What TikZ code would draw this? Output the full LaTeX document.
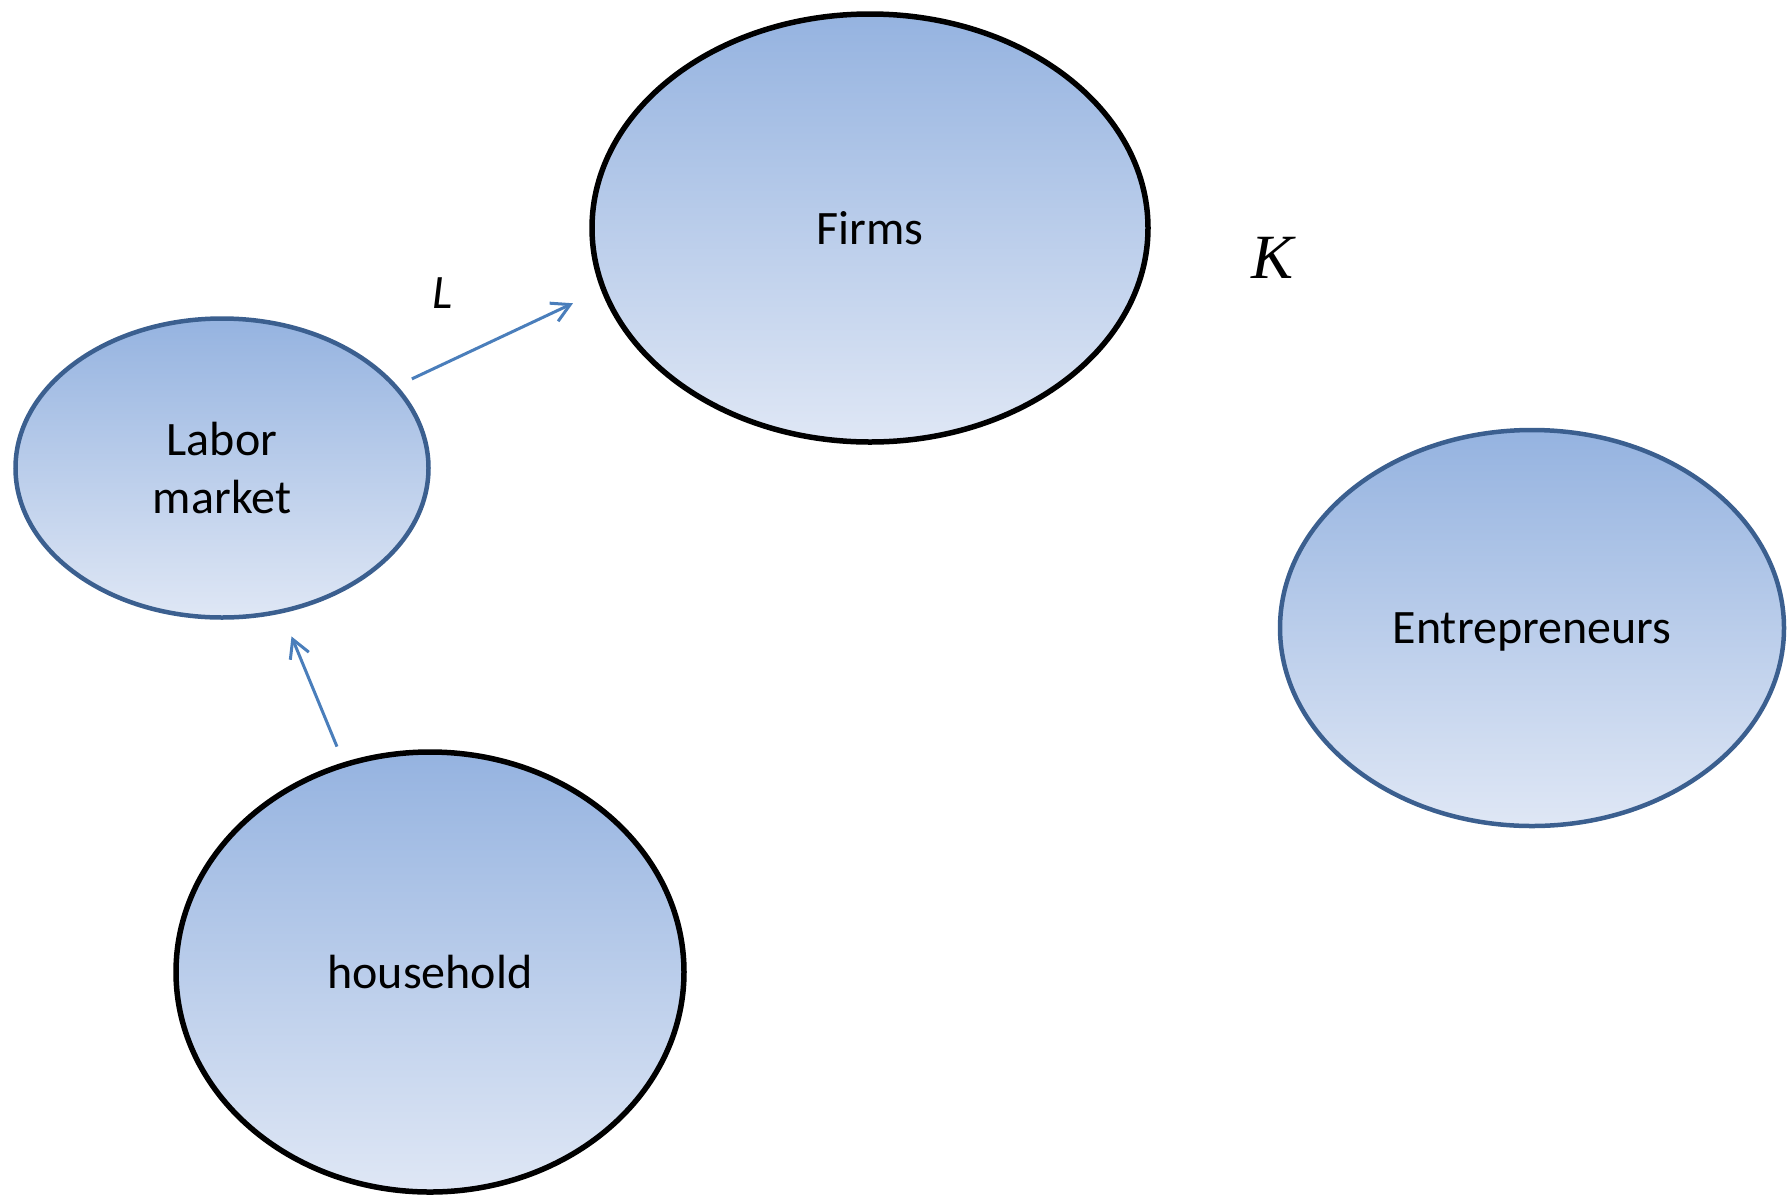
\documentclass[tikz,border=0pt]{standalone}
\usepackage{fontspec}
\setmainfont{Carlito}
\newfontfamily\serifK{Liberation Serif}
\usepackage{tikz}
\usetikzlibrary{shapes.geometric, arrows.meta}

\definecolor{topblue}{HTML}{95B3E0}
\definecolor{botblue}{HTML}{DFE7F5}
\definecolor{rimblue}{HTML}{3B5F8F}
\definecolor{arrowblue}{HTML}{4A7EBB}

\begin{document}
\begin{tikzpicture}[x=1pt, y=-1pt,
			agent/.style={ellipse, draw=black, line width=5.5pt, top color=topblue, bottom color=botblue, inner sep=0pt, text depth=0pt, align=center, font=\fontsize{48}{58}\selectfont},
			market/.style={agent, draw=rimblue, line width=4.5pt},
			flow/.style={-{Straight Barb[length=18pt, width=20pt]}, draw=arrowblue, line width=3pt},
		]
		\useasboundingbox (0,0) rectangle (1787,1197);

		\node[agent, minimum width=556pt, minimum height=428pt] (firms) at (870,228) {Firms};
		\node[market, minimum width=413pt, minimum height=299pt] (lab) at (222,468) {Labor\\market};
		\node[agent, minimum width=508pt, minimum height=440pt] (house) at (430,972) {household};
		\node[market, minimum width=504pt, minimum height=396pt] (entre) at (1532,628) {Entrepreneurs};

		\node[font=\fontsize{48}{58}\selectfont\itshape] (labL) at (443,293) {L};
		\node[font=\fontsize{63}{75}\selectfont\serifK\itshape] (capK) at (1272,258) {K};

		\draw[flow, shorten <=16pt, shorten >=31pt] (lab) -- (firms.193);
		\draw[flow, shorten <=17pt, shorten >=25pt] (house) -- (lab);

		\end{tikzpicture}
\end{document}
